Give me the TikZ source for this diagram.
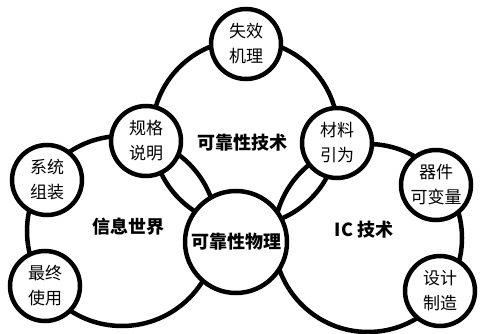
\documentclass[tikz,border=0pt]{standalone}
\usepackage{fontspec}
\newfontfamily\cjk{Noto Sans CJK SC}
\begin{document}
\begin{tikzpicture}[x=1pt,y=-1pt,
  ring/.style={circle,draw,line width=4.5pt,inner sep=0pt},
  bigring/.style={ring,minimum size=#1},
  smallring/.style={ring,fill=white,minimum size=70pt,align=center,
    font=\cjk\fontsize{17}{25}\selectfont},
  lab/.style={font=\cjk\bfseries\fontsize{18}{20}\selectfont}]
\useasboundingbox (0,0) rectangle (481,334);
% large circles
\node[bigring=186pt] (tech) at (245,133) {};
\node[bigring=190pt] (info) at (122,231) {};
\node[bigring=188pt] (ic) at (368,238) {};
% small circles
\node[smallring] (fail) at (246,44) {失效\\机理};
\node[smallring] (spec) at (146,141) {规格\\说明};
\node[smallring] (mat) at (337,143) {材料\\引为};
\node[smallring] (sys) at (47,180) {系统\\组装};
\node[smallring] (use) at (45,286) {最终\\使用};
\node[smallring] (dev) at (436,185) {器件\\可变量};
\node[smallring] (des) at (440,291) {设计\\制造};
% centre circle
\node[ring,fill=white,minimum size=102pt,lab] (phys) at (236,242) {可靠性物理};
% labels
\node[lab] (ltech) at (242,143) {可靠性技术};
\node[lab] (linfo) at (128,227) {信息世界};
\node[lab] (lic) at (364,230) {IC 技术};
\end{tikzpicture}
\end{document}
